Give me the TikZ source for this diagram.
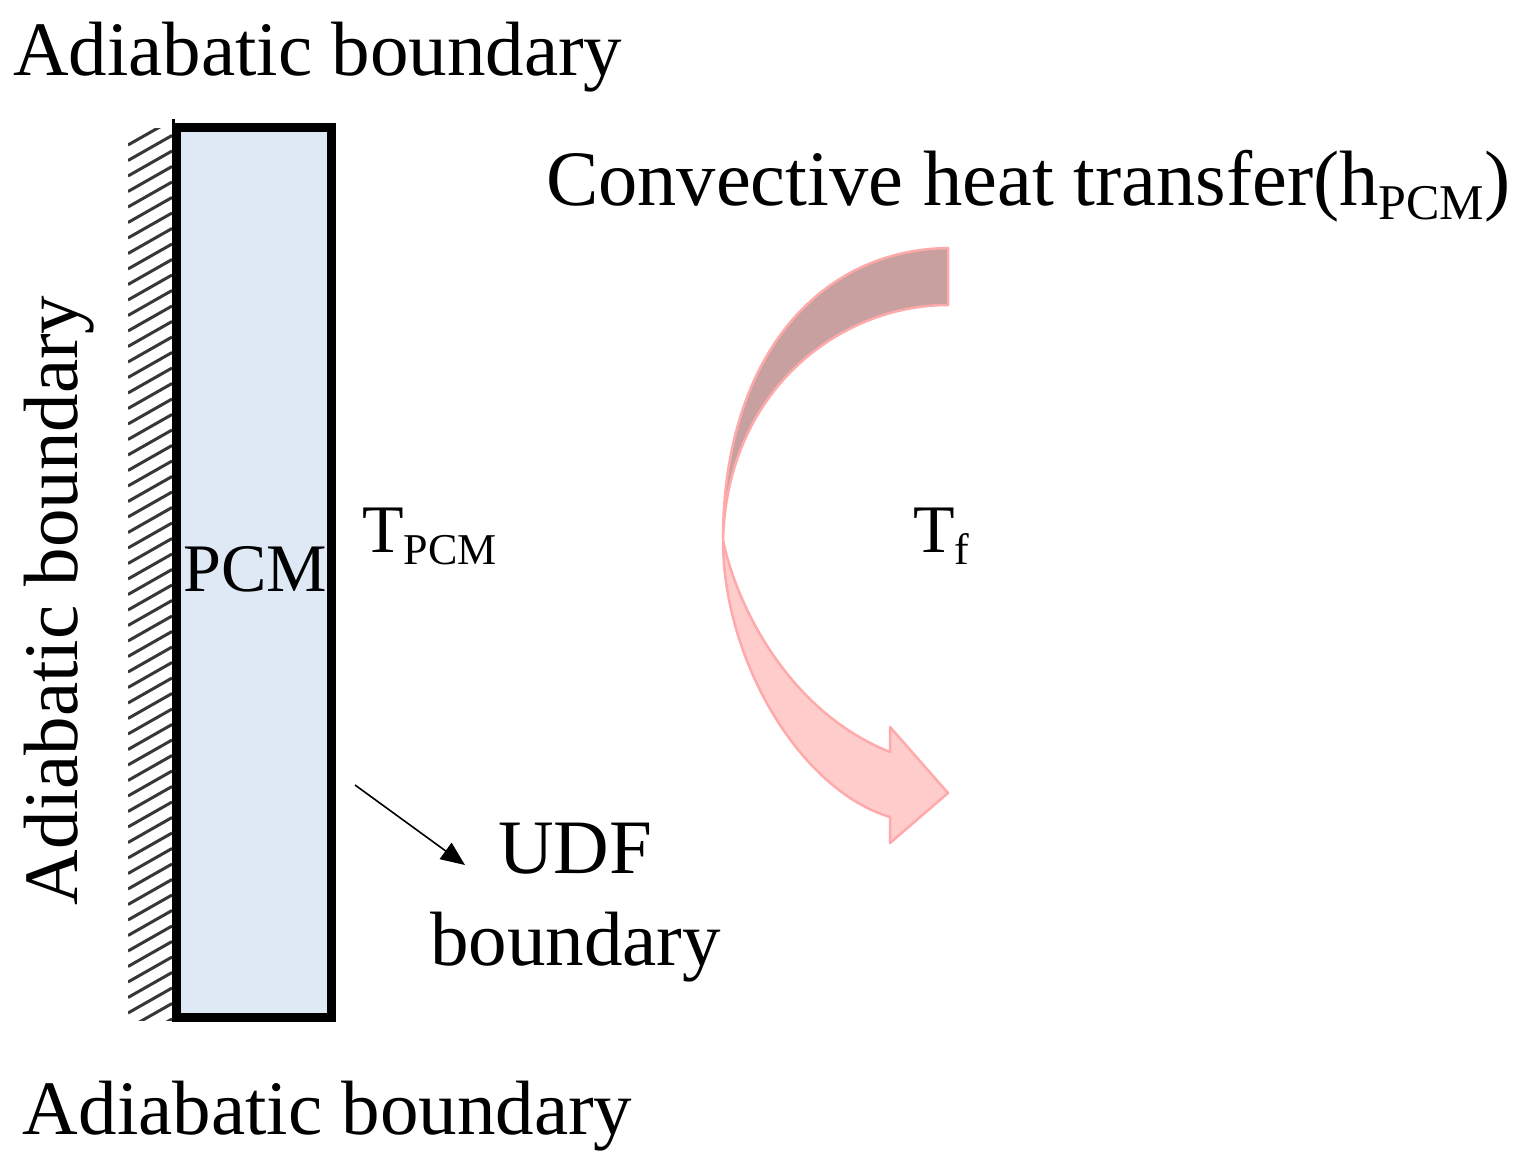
\documentclass[tikz,border=0pt]{standalone}
\usepackage{fontspec}
\setmainfont{Liberation Serif}
\usetikzlibrary{arrows.meta}
\definecolor{pcmfill}{RGB}{222,233,245}
\definecolor{backband}{RGB}{201,160,160}
\definecolor{frontband}{RGB}{255,204,204}
\definecolor{bandline}{RGB}{255,170,170}
\definecolor{hatchgray}{RGB}{55,55,55}
\newcommand{\bigfont}{\fontsize{77}{80}\selectfont}
\newcommand{\convfont}{\fontsize{78.5}{80}\selectfont}
\newcommand{\midfont}{\fontsize{68}{70}\selectfont}
\newcommand{\subfont}{\fontsize{44}{46}\selectfont}
\newcommand{\subbig}{\fontsize{50}{50}\selectfont}
\begin{document}
\begin{tikzpicture}[x=1pt,y=-1pt,
  lbl/.style={anchor=base west,inner sep=0pt,outer sep=0pt,font=\bigfont},
  tlbl/.style={anchor=base west,inner sep=0pt,outer sep=0pt,font=\midfont},
  hatchline/.style={draw=hatchgray,line width=3pt},
  pcmbox/.style={draw=black,line width=9pt,fill=pcmfill},
  band/.style={draw=bandline,line width=2.5pt,line join=round},
  pointer/.style={draw=black,line width=1.6pt,-{Triangle[length=24pt,width=20pt]}}]
\useasboundingbox (0,0) rectangle (1520,1170);

% hatching of the adiabatic wall
\begin{scope}
  \clip (128,128) rectangle (172,1020);
  \foreach \yy in {120,135.5,...,1060}{
    \draw[hatchline] (128,\yy+25) -- (172,\yy);
  }
\end{scope}

% PCM slab
\draw[pcmbox] (176,127) rectangle (331,1017);
\draw[black,line width=3pt] (173.5,119) -- (173.5,127);
\node[inner sep=0pt,anchor=base west,font=\midfont] (pcm) at (183,591) {PCM};

% labels
\node[lbl] (topb) at (13,75) {Adiabatic boundary};
\node[lbl] (botb) at (23,1134) {Adiabatic boundary};
\node[lbl,rotate=90] (leftb) at (77,905) {Adiabatic boundary};
\node[lbl,font=\convfont] (conv) at (546,205) {Convective heat transfer(h\raisebox{-14pt}{\subbig PCM})};
\node[tlbl] (tpcm) at (362,552) {T\raisebox{-12pt}{\subfont PCM}};
\node[tlbl] (tf) at (913,552) {T\raisebox{-12pt}{\subfont f}};
\node[lbl] (udf) at (498,873) {UDF};
\node[lbl] (udfb) at (430,965) {boundary};

% pointer arrow
\coordinate (pstart) at (355,785);
\coordinate (pend) at (465,865);
\draw[pointer] (pstart) -- (pend);

% curved convective arrow: back (upper) band
\draw[band,fill=backband]
  (948,248) .. controls (815,250) and (723,362) .. (723,540)
  .. controls (727,390) and (840,305) .. (948,305) -- cycle;
% front (lower) band with head
\draw[band,fill=frontband]
  (723,540) .. controls (723,660) and (800,790) .. (890,817)
  -- (890,843) -- (948,793) -- (890,727) -- (890,752)
  .. controls (785,710) and (735,600) .. (723,540) -- cycle;
\end{tikzpicture}
\end{document}
